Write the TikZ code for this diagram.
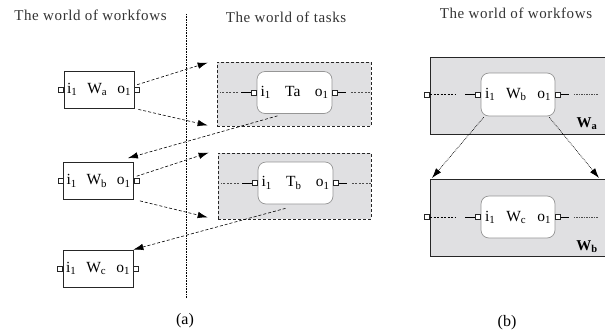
\documentclass[tikz,border=0pt]{standalone}
\usepackage{fontspec}
\setmainfont{Liberation Serif}
\newfontfamily\headfont[LetterSpace=4]{Liberation Serif}
\usetikzlibrary{arrows.meta,calc}
\definecolor{boxgray}{RGB}{224,224,226}
\definecolor{edgegray}{RGB}{150,150,150}
\newcommand\mysub[1]{\textsubscript{#1}}
\newcommand\boxlabel[3]{\makebox[#1][s]{i\mysub{1}\hfill #2\hfill o\mysub{1}}}
\begin{document}
\begin{tikzpicture}[x=1pt,y=-1pt,
  font=\fontsize{15.5}{17}\selectfont,
  wbox/.style={draw=black!85, line width=0.8pt, minimum width=70pt, minimum height=37pt, inner sep=0pt},
  port/.style={draw=black!85, fill=white, line width=0.6pt, minimum size=5pt, inner sep=0pt},
  taskouter/.style={draw=black!85, fill=boxgray, densely dashed, line width=0.7pt, inner sep=0pt},
  wfouter/.style={draw=black!85, fill=boxgray, line width=1pt, inner sep=0pt},
  inner/.style={draw=edgegray, fill=white, rounded corners=8pt, line width=0.7pt, minimum width=75pt, minimum height=42pt, inner sep=0pt},
  flow/.style={densely dashed, line width=0.6pt, -{Latex[length=10pt,width=6.5pt]}},
  dflow/.style={densely dotted, line width=0.7pt, -{Latex[length=10pt,width=6.5pt]}},
  stub/.style={line width=0.8pt},
  ext/.style={dash pattern=on 2pt off 1.5pt, line width=0.6pt, draw=black!70},
  head/.style={anchor=base, font=\headfont\fontsize{15}{18}\selectfont, text=black!80},
  captext/.style={anchor=base, font=\fontsize{16}{18}\selectfont},
  wlbl/.style={anchor=base, font=\bfseries\fontsize{15}{17}\selectfont}
]
\useasboundingbox (0,0) rectangle (605,333);
\clip (0,0) rectangle (605,333);

% headings
\node[head] (h1) at (90.5,20) {The world of workfows};
\node[head] (h2) at (286,22) {The world of tasks};
\node[head] (h3) at (516,18) {The world of workfows};
\node[captext] (ca) at (185,324) {(a)};
\node[captext] (cb) at (507,326) {(b)};

% separator
\coordinate (sepT) at (186,14);
\coordinate (sepB) at (186,298);
\draw[densely dotted, line width=0.6pt] (sepT) -- (sepB);

% workflow boxes (left)
\node[wbox] (Wa) at (99,89.5) {\boxlabel{64pt}{W\mysub{a}}{}};
\node[wbox] (Wb) at (98.5,181) {\boxlabel{64pt}{W\mysub{b}}{}};
\node[wbox] (Wc) at (98,268.5) {\boxlabel{64pt}{W\mysub{c}}{}};
\foreach \n in {Wa,Wb,Wc}{
  \node[port, anchor=east] (\n L) at (\n.west) {};
  \node[port, anchor=west] (\n R) at (\n.east) {};
}

% task boxes
\node[taskouter, minimum width=154pt, minimum height=64pt] (TA) at (294,94) {};
\node[inner] (TAi) at (294.5,92.5) {\boxlabel{68pt}{Ta}{}};
\node[taskouter, minimum width=153pt, minimum height=66pt] (TB) at (294.5,186) {};
\node[inner] (TBi) at (295.5,183) {\boxlabel{68pt}{T\mysub{b}}{}};
\foreach \n in {TAi,TBi}{
  \node[port, anchor=east] (\n L) at (\n.west) {};
  \node[port, anchor=west] (\n R) at (\n.east) {};
  \draw[stub] (\n L.west) -- ++(-10,0) coordinate (\n Ls);
  \draw[stub] (\n R.east) -- ++(8,0) coordinate (\n Rs);
  \draw[ext] ($(\n Ls)+(-3,0)$) coordinate (\n La) -- ++(-18,0) coordinate (\n Lb);
  \draw[ext] ($(\n Rs)+(5,0)$) coordinate (\n Ra) -- ++(19,0) coordinate (\n Rb);
}

% arrows (a)
\draw[flow] ($(WaR.north)+(0,-2)$) -- ($(TA.north west)+(-9,1)$);
\draw[flow] ($(Wa.south east)+(4,1)$) -- ($(TA.south west)+(-9,-1)$);
\draw[flow] ($(TAi.south)+(-17,2)$) -- ($(Wb.north east)+(-6,-4)$);
\draw[flow] ($(WbR.north)+(0,-2)$) -- ($(TB.north west)+(-9,0)$);
\draw[flow] ($(Wb.south east)+(6,1)$) -- ($(TB.south west)+(-10,-2)$);
\draw[flow] ($(TBi.south)+(-10,4)$) -- ($(Wc.north east)+(0,0)$);

% right panel
\node[wfouter, anchor=north west, minimum width=200pt, minimum height=77pt] (RA) at (430,57) {};
\node[inner, minimum width=74pt, minimum height=43pt] (RAi) at (518,94.5) {\boxlabel{66pt}{W\mysub{b}}{}};
\node[wlbl] (RAl) at (587,127) {W\mysub{a}};
\node[wfouter, anchor=north west, minimum width=200pt, minimum height=77pt] (RB) at (430,179) {};
\node[inner, minimum width=74pt, minimum height=42pt] (RBi) at (518,217) {\boxlabel{66pt}{W\mysub{c}}{}};
\node[wlbl] (RBl) at (587,250) {W\mysub{b}};
\foreach \n/\o in {RAi/RA,RBi/RB}{
  \node[port, anchor=east] (\n L) at (\n.west) {};
  \node[port, anchor=west] (\n R) at (\n.east) {};
  \node[port, anchor=east] (\o P) at (\o.west |- \n.west) {};
  \draw[stub] (\n L.west) -- ++(-10,0) coordinate (\n Ls);
  \draw[stub] (\n R.east) -- ++(8,0) coordinate (\n Rs);
  \draw[ext, draw=black] (\o P.east) -- ($(\n Ls)+(-10,0)$) coordinate (\n La);
  \draw[ext, dash pattern=on 1.5pt off 1pt] ($(\n Rs)+(5,0)$) coordinate (\n Ra) -- ++(25,0) coordinate (\n Rb);
}
\draw[dflow] ($(RAi.south west)+(3,1)$) -- ($(RB.north west)+(2,-1)$);
\draw[dflow] ($(RAi.south east)+(-6,1)$) -- ($(RB.north west)+(169,-1)$);
\end{tikzpicture}
\end{document}
